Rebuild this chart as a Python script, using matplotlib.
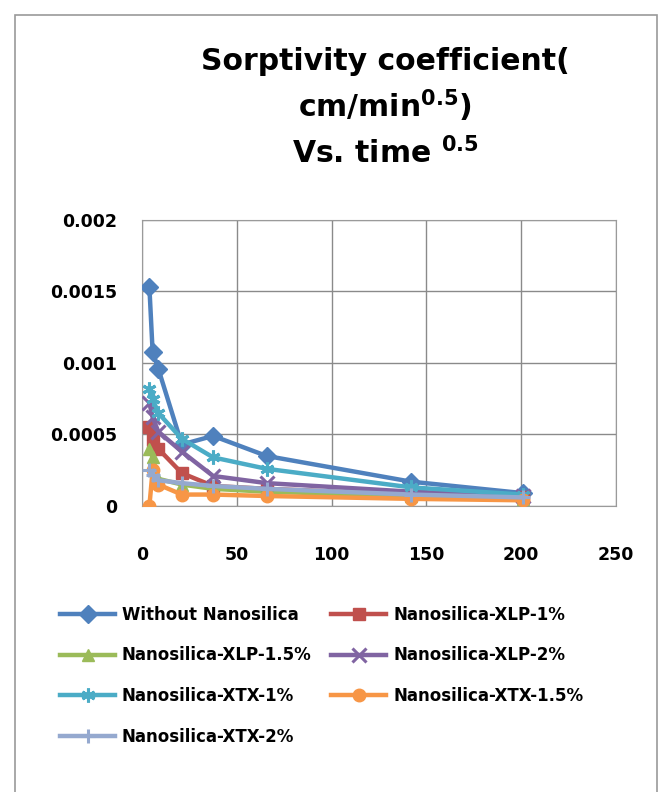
"""
Sorptivity coefficient vs. square root of time for nanosilica mixes.
"""
import matplotlib
matplotlib.use('Agg')
import matplotlib.pyplot as plt
from matplotlib.patches import Rectangle

plt.rcParams['font.family'] = ['DejaVu Sans']
plt.rcParams['mathtext.fontset'] = 'dejavusans'
plt.rcParams['mathtext.default'] = 'bf'

# time^0.5 values
time_sqrt = [3.9, 5.6, 8.6, 21, 37.5, 65.7, 142, 201]

series_names = [
    'Without Nanosilica',
    'Nanosilica-XLP-1%',
    'Nanosilica-XLP-1.5%',
    'Nanosilica-XLP-2%',
    'Nanosilica-XTX-1%',
    'Nanosilica-XTX-1.5%',
    'Nanosilica-XTX-2%',
]

without_nano = [0.00153, 0.00108, 0.00096, 0.00043, 0.00049, 0.00035, 0.00017, 0.00009]
xlp_1 = [0.00055, 0.00046, 0.00040, 0.00023, 0.00014, 0.00012, 0.00008, 0.00006]
xlp_15 = [0.00040, 0.00034, 0.00019, 0.00015, 0.00012, 0.00010, 0.00007, 0.00005]
xlp_2 = [0.00072, 0.00062, 0.00052, 0.00038, 0.00021, 0.00016, 0.00010, 0.00007]
xtx_1 = [0.00082, 0.00075, 0.00065, 0.00047, 0.00034, 0.00026, 0.00013, 0.00008]
xtx_15 = [0.00000, 0.00025, 0.00015, 0.00008, 0.00008, 0.00007, 0.00005, 0.00004]
xtx_2 = [0.00025, 0.00022, 0.00018, 0.00016, 0.00014, 0.00012, 0.00008, 0.00006]

x_ticks = [0, 50, 100, 150, 200, 250]
y_ticks = [0, 0.0005, 0.001, 0.0015, 0.002]
y_tick_labels = ['0', '0.0005', '0.001', '0.0015', '0.002']

colors = ['#4F81BD', '#C0504D', '#9BBB59', '#8064A2', '#4BACC6', '#F79646', '#95A9CF']
markers = ['D', 's', '^', 'x', (6, 2, 0), 'o', '+']


def plot():
    """
    Draw the chart and save it to out.png.
    """
    fig = plt.figure(figsize=(6.71, 7.92), dpi=100)
    ax = fig.add_axes([142 / 671, 1 - 506 / 792, (616 - 142) / 671, (506 - 220) / 792])

    all_series = [without_nano, xlp_1, xlp_15, xlp_2, xtx_1, xtx_15, xtx_2]
    handles = []
    for name, vals, col, mk in zip(series_names, all_series, colors, markers):
        thin = mk in ('x', '+') or isinstance(mk, tuple)
        h, = ax.plot(time_sqrt, vals, color=col, marker=mk, lw=3.2, ms=10 if thin else 9,
                     mew=2.2 if thin else 1, label=name, zorder=3)
        handles.append(h)

    ax.set_xlim(0, 250)
    ax.set_ylim(0, 0.002)
    ax.set_xticks(x_ticks)
    ax.set_yticks(y_ticks)
    ax.set_yticklabels(y_tick_labels)
    ax.grid(True, color='#8a8a8a', lw=1)
    ax.set_axisbelow(True)
    for sp in ax.spines.values():
        sp.set_color('#9a9a9a')
    ax.tick_params(length=0, labelsize=12.5)
    ax.tick_params(axis='x', pad=29)
    ax.tick_params(axis='y', pad=18)
    for lbl in ax.get_xticklabels() + ax.get_yticklabels():
        lbl.set_fontweight('bold')

    # title, three lines
    cx = 385 / 671
    fig.text(cx, 1 - 62 / 792, 'Sorptivity coefficient(', ha='center', va='center',
             fontsize=21.5, fontweight='bold')
    fig.text(cx, 1 - 106 / 792, 'cm/min$^{0.5}$)', ha='center', va='center',
             fontsize=21.5, fontweight='bold')
    fig.text(cx, 1 - 153 / 792, 'Vs. time $^{0.5}$', ha='center', va='center',
             fontsize=21.5, fontweight='bold')

    # legend filled row by row like the original
    order = [0, 2, 4, 6, 1, 3, 5]
    fig.legend([handles[i] for i in order], [series_names[i] for i in order],
               ncol=2, loc='upper left', bbox_to_anchor=(60 / 671, 1 - 606 / 792),
               frameon=False, borderpad=0, borderaxespad=0, handlelength=3.3,
               handletextpad=0.4, columnspacing=1.2, labelspacing=1.35,
               prop={'weight': 'bold', 'size': 12})

    # outer chart border
    fig.patches.append(Rectangle((15 / 671, -0.02), (657 - 15) / 671, 1 - 15 / 792 + 0.02,
                                 transform=fig.transFigure, fill=False,
                                 edgecolor='#9a9a9a', lw=1.2))

    fig.savefig('out.png', dpi=100)


plot()
